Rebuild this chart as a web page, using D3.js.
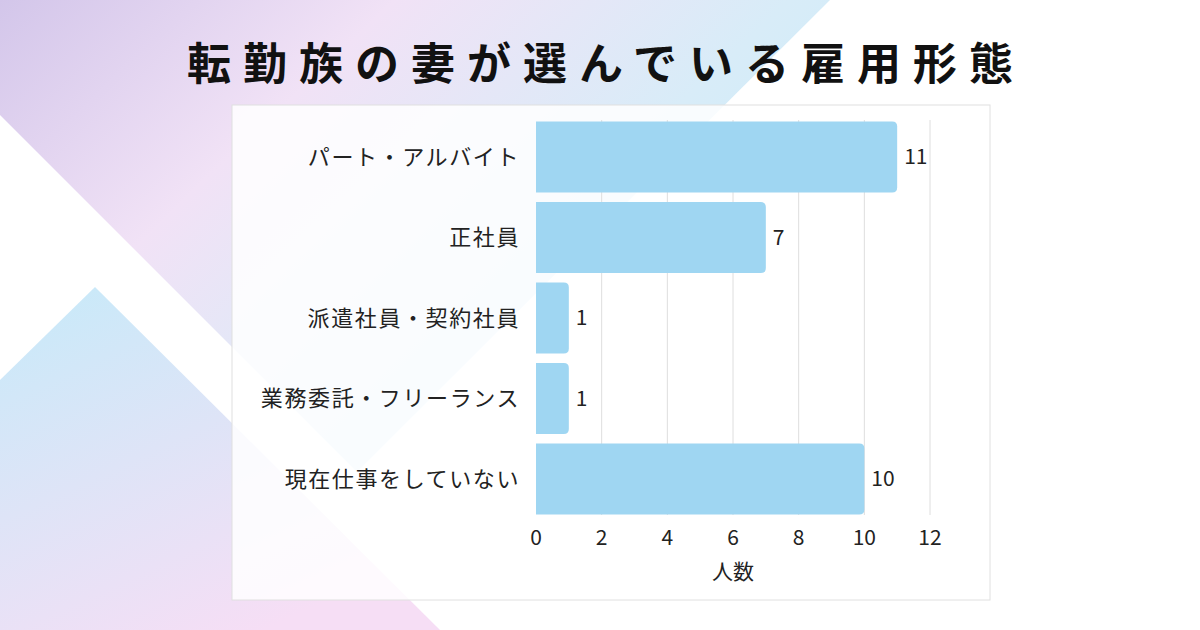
<!DOCTYPE html><html><head><meta charset="utf-8">
<script src="https://cdn.jsdelivr.net/npm/d3@7"></script>
<style>body{margin:0}svg{display:block}</style></head><body>
<svg id="c" width="1200" height="630"></svg>
<script>
const categories=["パート・アルバイト","正社員","派遣社員・契約社員","業務委託・フリーランス","現在仕事をしていない"];
const values=[11,7,1,1,10];
const ticks=[0,2,4,6,8,10,12];
const title="転勤族の妻が選んでいる雇用形態";
const axisTitle="人数";
const svg=d3.select("#c");
const defs=svg.append("defs");
const g1=defs.append("linearGradient").attr("id","bg").attr("x1",0).attr("y1",0).attr("x2",1).attr("y2",0.6);
g1.append("stop").attr("offset",0).attr("stop-color","#d3c6ea");
g1.append("stop").attr("offset",0.35).attr("stop-color","#f1e2f6");
g1.append("stop").attr("offset",0.7).attr("stop-color","#d8ecf8");
g1.append("stop").attr("offset",1).attr("stop-color","#c8ecfa");
const g2=defs.append("linearGradient").attr("id","bl").attr("x1",0).attr("y1",0).attr("x2",0.6).attr("y2",1);
g2.append("stop").attr("offset",0).attr("stop-color","#c6eaf9");
g2.append("stop").attr("offset",1).attr("stop-color","#f6def5");
svg.append("rect").attr("width",1200).attr("height",630).attr("fill","#ffffff");
svg.append("polygon").attr("points","0,0 830,0 357,472 0,115").attr("fill","url(#bg)");
svg.append("polygon").attr("points","95,287 440,630 0,630 0,380").attr("fill","url(#bl)");
const fam="'Noto Sans CJK JP','Noto Sans',sans-serif";
svg.append("text").attr("x",606).attr("y",80).attr("text-anchor","middle").attr("font-family",fam).attr("font-weight",700).attr("font-size",44).attr("letter-spacing",12).attr("fill","#111").text(title);
svg.append("rect").attr("x",232).attr("y",105).attr("width",758).attr("height",495).attr("fill","#fff").attr("fill-opacity",0.85).attr("stroke","#e0e0e0");
const x=d3.scaleLinear().domain([0,12]).range([536,930]);
const y=d3.scaleBand().domain(categories).range([120,516]).paddingInner(0.12).paddingOuter(0.02);
svg.append("g").selectAll("line").data(ticks.slice(1)).join("line").attr("x1",d=>x(d)).attr("x2",d=>x(d)).attr("y1",120).attr("y2",515).attr("stroke","#dedede");
svg.append("g").selectAll("path").data(values).join("path").attr("fill","#9fd6f2").attr("d",(d,i)=>{const x0=x(0),x1=x(d),y0=y(categories[i]),h=y.bandwidth(),r=5;return `M${x0},${y0}H${x1-r}Q${x1},${y0} ${x1},${y0+r}V${y0+h-r}Q${x1},${y0+h} ${x1-r},${y0+h}H${x0}Z`;});
svg.append("g").selectAll("text").data(values).join("text").attr("x",d=>x(d)+7).attr("y",(d,i)=>y(categories[i])+y.bandwidth()/2).attr("dy","0.35em").attr("font-family",fam).attr("font-size",21).attr("fill","#222").text(d=>d);
svg.append("g").selectAll("text").data(categories).join("text").attr("x",520).attr("y",d=>y(d)+y.bandwidth()/2).attr("dy","0.35em").attr("text-anchor","end").attr("font-family",fam).attr("font-size",22).attr("letter-spacing",1.6).attr("fill","#222").text(d=>d);
svg.append("g").selectAll("text").data(ticks).join("text").attr("x",d=>x(d)).attr("y",545).attr("text-anchor","middle").attr("font-family",fam).attr("font-size",21).attr("fill","#222").text(d=>d);
svg.append("text").attr("x",733).attr("y",579).attr("text-anchor","middle").attr("font-family",fam).attr("font-size",21).attr("fill","#222").text(axisTitle);
</script></body></html>
